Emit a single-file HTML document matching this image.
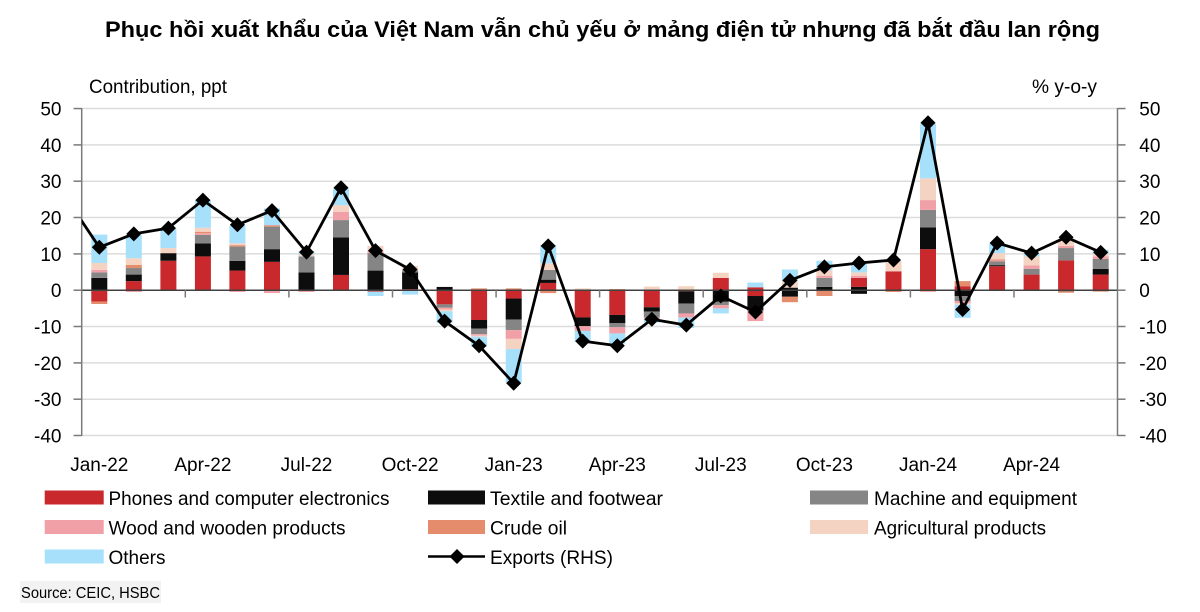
<!DOCTYPE html>
<html><head><meta charset="utf-8"><style>
html,body{margin:0;padding:0;background:#fff;}
svg{display:block;font-family:"Liberation Sans",Arial,sans-serif;}
</style></head><body>
<svg width="1200" height="612" viewBox="0 0 1200 612" xmlns="http://www.w3.org/2000/svg">
<defs>
<clipPath id="pc"><rect x="81.7" y="0" width="1035.8" height="612"/></clipPath>
<marker id="dm" markerUnits="userSpaceOnUse" markerWidth="18" markerHeight="18" refX="9" refY="9" orient="0"><path d="M9,1.5 L16.5,9 L9,16.5 L1.5,9 Z" fill="#000"/></marker>
</defs>
<rect width="1200" height="612" fill="#fff"/>
<text x="602.5" y="37" text-anchor="middle" font-size="22" font-weight="bold" textLength="995" lengthAdjust="spacingAndGlyphs" font-family="'Liberation Sans','Noto Sans CJK SC',sans-serif">Phục hồi xuất khẩu của Việt Nam vẫn chủ yếu ở mảng điện tử nhưng đã bắt đầu lan rộng</text>
<text x="89" y="93" font-size="19.5" textLength="138" lengthAdjust="spacingAndGlyphs">Contribution, ppt</text>
<text x="1032" y="93" font-size="19.5" textLength="65" lengthAdjust="spacingAndGlyphs">% y-o-y</text>
<!-- gridlines -->
<g stroke="#dcdcdc" stroke-width="1.5">
<line x1="81.7" x2="1117.5" y1="108.55" y2="108.55"/>
<line x1="81.7" x2="1117.5" y1="144.9" y2="144.9"/>
<line x1="81.7" x2="1117.5" y1="181.2" y2="181.2"/>
<line x1="81.7" x2="1117.5" y1="217.5" y2="217.5"/>
<line x1="81.7" x2="1117.5" y1="253.9" y2="253.9"/>
<line x1="81.7" x2="1117.5" y1="326.5" y2="326.5"/>
<line x1="81.7" x2="1117.5" y1="362.9" y2="362.9"/>
<line x1="81.7" x2="1117.5" y1="399.2" y2="399.2"/>
<line x1="81.7" x2="1117.5" y1="435.5" y2="435.5"/>
</g>
<!-- bars in data units -->
<g transform="translate(0,290.2) scale(1,-3.633)">
<g transform="translate(91.3,0)"><rect y="0" height="3.4" width="16" fill="#0d0d0d"/><rect y="3.4" height="1.5" width="16" fill="#858585"/><rect y="4.9" height="0.7" width="16" fill="#f0a0a6"/><rect y="5.6" height="1.9" width="16" fill="#f5d3c3"/><rect y="7.5" height="7.8" width="16" fill="#a6e0fa"/><rect y="-3.1" height="3.1" width="16" fill="#c9282d"/><rect y="-3.8" height="0.7" width="16" fill="#e48c6c"/></g>
<g transform="translate(125.8,0)"><rect y="0" height="2.5" width="16" fill="#c9282d"/><rect y="2.5" height="1.8" width="16" fill="#0d0d0d"/><rect y="4.3" height="1.8" width="16" fill="#858585"/><rect y="6.1" height="0.9" width="16" fill="#e48c6c"/><rect y="7.0" height="1.8" width="16" fill="#f5d3c3"/><rect y="8.8" height="6.4" width="16" fill="#a6e0fa"/><rect y="-0.5" height="0.5" width="16" fill="#f0a0a6"/></g>
<g transform="translate(160.4,0)"><rect y="0" height="8.1" width="16" fill="#c9282d"/><rect y="8.1" height="2.1" width="16" fill="#0d0d0d"/><rect y="10.2" height="1.4" width="16" fill="#f5d3c3"/><rect y="11.6" height="5.5" width="16" fill="#a6e0fa"/></g>
<g transform="translate(194.9,0)"><rect y="0" height="9.3" width="16" fill="#c9282d"/><rect y="9.3" height="3.6" width="16" fill="#0d0d0d"/><rect y="12.9" height="2.3" width="16" fill="#858585"/><rect y="15.2" height="0.5" width="16" fill="#f0a0a6"/><rect y="15.7" height="0.4" width="16" fill="#e48c6c"/><rect y="16.1" height="1.1" width="16" fill="#f5d3c3"/><rect y="17.2" height="7.6" width="16" fill="#a6e0fa"/></g>
<g transform="translate(229.4,0)"><rect y="0" height="5.4" width="16" fill="#c9282d"/><rect y="5.4" height="2.7" width="16" fill="#0d0d0d"/><rect y="8.1" height="3.9" width="16" fill="#858585"/><rect y="12.0" height="0.4" width="16" fill="#e48c6c"/><rect y="12.4" height="0.5" width="16" fill="#f5d3c3"/><rect y="12.9" height="4.9" width="16" fill="#a6e0fa"/><rect y="-0.5" height="0.5" width="16" fill="#f0a0a6"/></g>
<g transform="translate(264.0,0)"><rect y="0" height="7.8" width="16" fill="#c9282d"/><rect y="7.8" height="3.5" width="16" fill="#0d0d0d"/><rect y="11.3" height="6.2" width="16" fill="#858585"/><rect y="17.5" height="0.4" width="16" fill="#e48c6c"/><rect y="17.9" height="4.6" width="16" fill="#a6e0fa"/><rect y="-0.8" height="0.8" width="16" fill="#f0a0a6"/></g>
<g transform="translate(298.5,0)"><rect y="0" height="4.9" width="16" fill="#0d0d0d"/><rect y="4.9" height="4.4" width="16" fill="#858585"/><rect y="9.3" height="0.5" width="16" fill="#f5d3c3"/><rect y="9.8" height="0.9" width="16" fill="#a6e0fa"/><rect y="-0.5" height="0.5" width="16" fill="#f0a0a6"/></g>
<g transform="translate(333.0,0)"><rect y="0" height="4.2" width="16" fill="#c9282d"/><rect y="4.2" height="10.3" width="16" fill="#0d0d0d"/><rect y="14.5" height="4.8" width="16" fill="#858585"/><rect y="19.3" height="2.3" width="16" fill="#f0a0a6"/><rect y="21.6" height="1.8" width="16" fill="#f5d3c3"/><rect y="23.4" height="4.6" width="16" fill="#a6e0fa"/></g>
<g transform="translate(367.5,0)"><rect y="0" height="5.4" width="16" fill="#0d0d0d"/><rect y="5.4" height="4.8" width="16" fill="#858585"/><rect y="10.2" height="0.6" width="16" fill="#f0a0a6"/><rect y="10.8" height="1.4" width="16" fill="#f5d3c3"/><rect y="-0.4" height="0.4" width="16" fill="#c9282d"/><rect y="-1.6" height="1.2" width="16" fill="#a6e0fa"/></g>
<g transform="translate(402.1,0)"><rect y="0" height="0.3" width="16" fill="#c9282d"/><rect y="0.3" height="4.6" width="16" fill="#0d0d0d"/><rect y="4.9" height="0.6" width="16" fill="#858585"/><rect y="5.5" height="1.2" width="16" fill="#f5d3c3"/><rect y="-1.2" height="1.2" width="16" fill="#a6e0fa"/></g>
<g transform="translate(436.6,0)"><rect y="0" height="0.9" width="16" fill="#0d0d0d"/><rect y="-3.9" height="3.9" width="16" fill="#c9282d"/><rect y="-4.8" height="0.9" width="16" fill="#858585"/><rect y="-5.3" height="0.5" width="16" fill="#f0a0a6"/><rect y="-5.8" height="0.5" width="16" fill="#f5d3c3"/><rect y="-9.0" height="3.2" width="16" fill="#a6e0fa"/></g>
<g transform="translate(471.1,0)"><rect y="0" height="0.5" width="16" fill="#e48c6c"/><rect y="-8.2" height="8.2" width="16" fill="#c9282d"/><rect y="-10.6" height="2.4" width="16" fill="#0d0d0d"/><rect y="-12.1" height="1.5" width="16" fill="#858585"/><rect y="-12.5" height="0.4" width="16" fill="#f0a0a6"/><rect y="-12.8" height="0.3" width="16" fill="#f5d3c3"/><rect y="-15.5" height="2.7" width="16" fill="#a6e0fa"/></g>
<g transform="translate(505.7,0)"><rect y="0" height="0.5" width="16" fill="#e48c6c"/><rect y="-2.3" height="2.3" width="16" fill="#c9282d"/><rect y="-8.1" height="5.8" width="16" fill="#0d0d0d"/><rect y="-11.0" height="2.9" width="16" fill="#858585"/><rect y="-13.4" height="2.4" width="16" fill="#f0a0a6"/><rect y="-16.2" height="2.8" width="16" fill="#f5d3c3"/><rect y="-25.5" height="9.3" width="16" fill="#a6e0fa"/></g>
<g transform="translate(540.2,0)"><rect y="0" height="2.0" width="16" fill="#c9282d"/><rect y="2.0" height="0.9" width="16" fill="#0d0d0d"/><rect y="2.9" height="2.7" width="16" fill="#858585"/><rect y="5.6" height="1.8" width="16" fill="#f5d3c3"/><rect y="7.4" height="5.0" width="16" fill="#a6e0fa"/><rect y="-0.8" height="0.8" width="16" fill="#e48c6c"/></g>
<g transform="translate(574.7,0)"><rect y="0" height="0.5" width="16" fill="#f5d3c3"/><rect y="-7.5" height="7.5" width="16" fill="#c9282d"/><rect y="-9.9" height="2.4" width="16" fill="#0d0d0d"/><rect y="-11.2" height="1.3" width="16" fill="#f0a0a6"/><rect y="-14.2" height="3.0" width="16" fill="#a6e0fa"/></g>
<g transform="translate(609.3,0)"><rect y="0" height="0.3" width="16" fill="#e48c6c"/><rect y="-6.8" height="6.8" width="16" fill="#c9282d"/><rect y="-9.1" height="2.3" width="16" fill="#0d0d0d"/><rect y="-10.2" height="1.1" width="16" fill="#858585"/><rect y="-11.9" height="1.7" width="16" fill="#f0a0a6"/><rect y="-14.7" height="2.8" width="16" fill="#a6e0fa"/></g>
<g transform="translate(643.8,0)"><rect y="0" height="1.0" width="16" fill="#f5d3c3"/><rect y="-4.7" height="4.7" width="16" fill="#c9282d"/><rect y="-5.9" height="1.2" width="16" fill="#0d0d0d"/><rect y="-7.5" height="1.6" width="16" fill="#858585"/><rect y="-8.0" height="0.5" width="16" fill="#f0a0a6"/><rect y="-8.9" height="0.9" width="16" fill="#a6e0fa"/></g>
<g transform="translate(678.3,0)"><rect y="0" height="1.1" width="16" fill="#f5d3c3"/><rect y="-0.3" height="0.3" width="16" fill="#c9282d"/><rect y="-3.7" height="3.4" width="16" fill="#0d0d0d"/><rect y="-6.4" height="2.7" width="16" fill="#858585"/><rect y="-7.5" height="1.1" width="16" fill="#f0a0a6"/><rect y="-10.4" height="2.9" width="16" fill="#a6e0fa"/></g>
<g transform="translate(712.8,0)"><rect y="0" height="3.4" width="16" fill="#c9282d"/><rect y="3.4" height="1.4" width="16" fill="#f5d3c3"/><rect y="-3.2" height="3.2" width="16" fill="#0d0d0d"/><rect y="-4.1" height="0.9" width="16" fill="#858585"/><rect y="-5.0" height="0.9" width="16" fill="#f0a0a6"/><rect y="-6.4" height="1.4" width="16" fill="#a6e0fa"/></g>
<g transform="translate(747.4,0)"><rect y="0" height="0.8" width="16" fill="#c9282d"/><rect y="0.8" height="1.3" width="16" fill="#a6e0fa"/><rect y="-1.6" height="1.6" width="16" fill="#c9282d"/><rect y="-5.6" height="4.0" width="16" fill="#0d0d0d"/><rect y="-8.5" height="2.9" width="16" fill="#f0a0a6"/></g>
<g transform="translate(781.9,0)"><rect y="0" height="0.7" width="16" fill="#0d0d0d"/><rect y="0.7" height="1.8" width="16" fill="#f5d3c3"/><rect y="2.5" height="3.2" width="16" fill="#a6e0fa"/><rect y="-1.8" height="1.8" width="16" fill="#0d0d0d"/><rect y="-3.3" height="1.5" width="16" fill="#e48c6c"/></g>
<g transform="translate(816.4,0)"><rect y="0" height="0.9" width="16" fill="#0d0d0d"/><rect y="0.9" height="2.5" width="16" fill="#858585"/><rect y="3.4" height="0.6" width="16" fill="#f0a0a6"/><rect y="4.0" height="1.5" width="16" fill="#f5d3c3"/><rect y="5.5" height="2.6" width="16" fill="#a6e0fa"/><rect y="-1.6" height="1.6" width="16" fill="#e48c6c"/></g>
<g transform="translate(851.0,0)"><rect y="0" height="0.9" width="16" fill="#0d0d0d"/><rect y="0.9" height="2.5" width="16" fill="#c9282d"/><rect y="3.4" height="0.6" width="16" fill="#f0a0a6"/><rect y="4.0" height="0.9" width="16" fill="#f5d3c3"/><rect y="4.9" height="2.3" width="16" fill="#a6e0fa"/><rect y="-1.0" height="1.0" width="16" fill="#0d0d0d"/></g>
<g transform="translate(885.5,0)"><rect y="0" height="5.2" width="16" fill="#c9282d"/><rect y="5.2" height="2.8" width="16" fill="#f5d3c3"/><rect y="-0.5" height="0.5" width="16" fill="#e48c6c"/></g>
<g transform="translate(920.0,0)"><rect y="0" height="11.3" width="16" fill="#c9282d"/><rect y="11.3" height="6.0" width="16" fill="#0d0d0d"/><rect y="17.3" height="4.8" width="16" fill="#858585"/><rect y="22.1" height="2.7" width="16" fill="#f0a0a6"/><rect y="24.8" height="6.0" width="16" fill="#f5d3c3"/><rect y="30.8" height="15.1" width="16" fill="#a6e0fa"/><rect y="-0.4" height="0.4" width="16" fill="#e48c6c"/></g>
<g transform="translate(954.6,0)"><rect y="0" height="1.1" width="16" fill="#c9282d"/><rect y="1.1" height="1.4" width="16" fill="#e48c6c"/><rect y="-1.6" height="1.6" width="16" fill="#0d0d0d"/><rect y="-3.0" height="1.4" width="16" fill="#858585"/><rect y="-3.6" height="0.6" width="16" fill="#f0a0a6"/><rect y="-4.0" height="0.4" width="16" fill="#f5d3c3"/><rect y="-7.6" height="3.6" width="16" fill="#a6e0fa"/></g>
<g transform="translate(989.1,0)"><rect y="0" height="6.6" width="16" fill="#c9282d"/><rect y="6.6" height="0.3" width="16" fill="#0d0d0d"/><rect y="6.9" height="1.0" width="16" fill="#858585"/><rect y="7.9" height="0.3" width="16" fill="#f0a0a6"/><rect y="8.2" height="0.3" width="16" fill="#e48c6c"/><rect y="8.5" height="1.7" width="16" fill="#f5d3c3"/><rect y="10.2" height="2.6" width="16" fill="#a6e0fa"/></g>
<g transform="translate(1023.6,0)"><rect y="0" height="4.3" width="16" fill="#c9282d"/><rect y="4.3" height="1.6" width="16" fill="#858585"/><rect y="5.9" height="0.9" width="16" fill="#f0a0a6"/><rect y="6.8" height="2.5" width="16" fill="#f5d3c3"/><rect y="9.3" height="0.7" width="16" fill="#a6e0fa"/></g>
<g transform="translate(1058.1,0)"><rect y="0" height="8.2" width="16" fill="#c9282d"/><rect y="8.2" height="3.4" width="16" fill="#858585"/><rect y="11.6" height="0.6" width="16" fill="#f0a0a6"/><rect y="12.2" height="1.3" width="16" fill="#f5d3c3"/><rect y="-0.3" height="0.3" width="16" fill="#0d0d0d"/><rect y="-0.7" height="0.4" width="16" fill="#e48c6c"/></g>
<g transform="translate(1092.7,0)"><rect y="0" height="4.3" width="16" fill="#c9282d"/><rect y="4.3" height="1.6" width="16" fill="#0d0d0d"/><rect y="5.9" height="2.7" width="16" fill="#858585"/><rect y="8.6" height="0.7" width="16" fill="#f0a0a6"/><rect y="9.3" height="0.7" width="16" fill="#f5d3c3"/><rect y="10.0" height="1.1" width="16" fill="#a6e0fa"/><rect y="-0.4" height="0.4" width="16" fill="#e48c6c"/></g>
</g>
<!-- zero line and axes -->
<line x1="81.7" x2="1117.5" y1="290.2" y2="290.2" stroke="#404040" stroke-width="1.5"/>
<g stroke="#7a7a7a" stroke-width="1.5">
<line x1="81.7" x2="81.7" y1="108" y2="436"/>
<line x1="1117.5" x2="1117.5" y1="108" y2="436"/>
<line x1="73.5" x2="81.7" y1="108.55" y2="108.55"/><line x1="73.5" x2="81.7" y1="144.9" y2="144.9"/><line x1="73.5" x2="81.7" y1="181.2" y2="181.2"/><line x1="73.5" x2="81.7" y1="217.5" y2="217.5"/><line x1="73.5" x2="81.7" y1="253.9" y2="253.9"/><line x1="73.5" x2="81.7" y1="290.2" y2="290.2"/><line x1="73.5" x2="81.7" y1="326.5" y2="326.5"/><line x1="73.5" x2="81.7" y1="362.9" y2="362.9"/><line x1="73.5" x2="81.7" y1="399.2" y2="399.2"/><line x1="73.5" x2="81.7" y1="435.5" y2="435.5"/>
<line x1="1117.5" x2="1125.5" y1="108.55" y2="108.55"/><line x1="1117.5" x2="1125.5" y1="144.9" y2="144.9"/><line x1="1117.5" x2="1125.5" y1="181.2" y2="181.2"/><line x1="1117.5" x2="1125.5" y1="217.5" y2="217.5"/><line x1="1117.5" x2="1125.5" y1="253.9" y2="253.9"/><line x1="1117.5" x2="1125.5" y1="290.2" y2="290.2"/><line x1="1117.5" x2="1125.5" y1="326.5" y2="326.5"/><line x1="1117.5" x2="1125.5" y1="362.9" y2="362.9"/><line x1="1117.5" x2="1125.5" y1="399.2" y2="399.2"/><line x1="1117.5" x2="1125.5" y1="435.5" y2="435.5"/>
<line x1="185.3" x2="185.3" y1="290.2" y2="297.5"/><line x1="288.9" x2="288.9" y1="290.2" y2="297.5"/><line x1="392.5" x2="392.5" y1="290.2" y2="297.5"/><line x1="496.1" x2="496.1" y1="290.2" y2="297.5"/><line x1="599.6" x2="599.6" y1="290.2" y2="297.5"/><line x1="703.2" x2="703.2" y1="290.2" y2="297.5"/><line x1="806.8" x2="806.8" y1="290.2" y2="297.5"/><line x1="910.4" x2="910.4" y1="290.2" y2="297.5"/><line x1="1014.0" x2="1014.0" y1="290.2" y2="297.5"/>
</g>
<!-- exports line -->
<g clip-path="url(#pc)">
<polyline fill="none" stroke="#000" stroke-width="2.8" stroke-linejoin="round" marker-start="url(#dm)" marker-mid="url(#dm)" marker-end="url(#dm)" points="64.8,195.7 99.3,247.3 133.8,233.9 168.4,228.1 202.9,200.1 237.4,224.8 272.0,210.6 306.5,252.1 341.0,187.7 375.5,250.6 410.1,269.5 444.6,321.1 479.1,345.8 513.7,383.2 548.2,245.9 582.7,341.1 617.3,345.8 651.8,319.3 686.3,325.1 720.8,296.0 755.4,312.0 789.9,280.4 824.4,266.9 859.0,263.0 893.5,260.0 928.0,122.7 962.6,309.5 997.1,243.0 1031.6,253.1 1066.1,237.2 1100.7,252.4"/>
</g>
<!-- left tick labels -->
<g font-size="19" text-anchor="end" fill="#000">
<text x="61.5" y="115.5">50</text><text x="61.5" y="151.9">40</text><text x="61.5" y="188.2">30</text><text x="61.5" y="224.5">20</text><text x="61.5" y="260.9">10</text><text x="61.5" y="297.2">0</text><text x="61.5" y="333.5">-10</text><text x="61.5" y="369.9">-20</text><text x="61.5" y="406.2">-30</text><text x="61.5" y="442.5">-40</text>
</g>
<g font-size="19" text-anchor="start" fill="#000">
<text x="1139.3" y="115.5">50</text><text x="1139.3" y="151.9">40</text><text x="1139.3" y="188.2">30</text><text x="1139.3" y="224.5">20</text><text x="1139.3" y="260.9">10</text><text x="1139.3" y="297.2">0</text><text x="1139.3" y="333.5">-10</text><text x="1139.3" y="369.9">-20</text><text x="1139.3" y="406.2">-30</text><text x="1139.3" y="442.5">-40</text>
</g>
<!-- x labels -->
<g font-size="19" text-anchor="middle" fill="#000">
<text x="99.3" y="471">Jan-22</text><text x="202.9" y="471">Apr-22</text><text x="306.5" y="471">Jul-22</text><text x="410.1" y="471">Oct-22</text><text x="513.7" y="471">Jan-23</text><text x="617.3" y="471">Apr-23</text><text x="720.8" y="471">Jul-23</text><text x="824.4" y="471">Oct-23</text><text x="928.0" y="471">Jan-24</text><text x="1031.6" y="471">Apr-24</text>
</g>
<!-- legend -->
<rect x="44.7" y="490.5" width="59" height="14" fill="#c9282d"/>
<rect x="428" y="490.5" width="57" height="14" fill="#0d0d0d"/>
<rect x="810" y="490.5" width="58" height="14" fill="#858585"/>
<rect x="44.7" y="520" width="59" height="14" fill="#f0a0a6"/>
<rect x="428" y="520" width="57" height="14" fill="#e48c6c"/>
<rect x="810" y="520" width="58" height="14" fill="#f5d3c3"/>
<rect x="44.7" y="549.5" width="59" height="14" fill="#a6e0fa"/>
<line x1="428" x2="485" y1="556.5" y2="556.5" stroke="#000" stroke-width="2.5"/>
<path d="M457,549 L464.5,556.5 L457,564 L449.5,556.5 Z" fill="#000"/>
<g font-size="19.5" fill="#000">
<text x="108.5" y="505" textLength="281" lengthAdjust="spacingAndGlyphs">Phones and computer electronics</text>
<text x="490" y="505" textLength="173" lengthAdjust="spacingAndGlyphs">Textile and footwear</text>
<text x="874" y="505" textLength="203" lengthAdjust="spacingAndGlyphs">Machine and equipment</text>
<text x="108.5" y="534.5" textLength="237" lengthAdjust="spacingAndGlyphs">Wood and wooden products</text>
<text x="490" y="534.5" textLength="77" lengthAdjust="spacingAndGlyphs">Crude oil</text>
<text x="874" y="534.5" textLength="172" lengthAdjust="spacingAndGlyphs">Agricultural products</text>
<text x="108.5" y="564" textLength="57" lengthAdjust="spacingAndGlyphs">Others</text>
<text x="490" y="564" textLength="123" lengthAdjust="spacingAndGlyphs">Exports (RHS)</text>
</g>
<rect x="20" y="581" width="141" height="22" fill="#f2f2f2"/>
<text x="21" y="598" font-size="15.5" textLength="139" lengthAdjust="spacingAndGlyphs" fill="#000">Source: CEIC, HSBC</text>
</svg>
</body></html>
